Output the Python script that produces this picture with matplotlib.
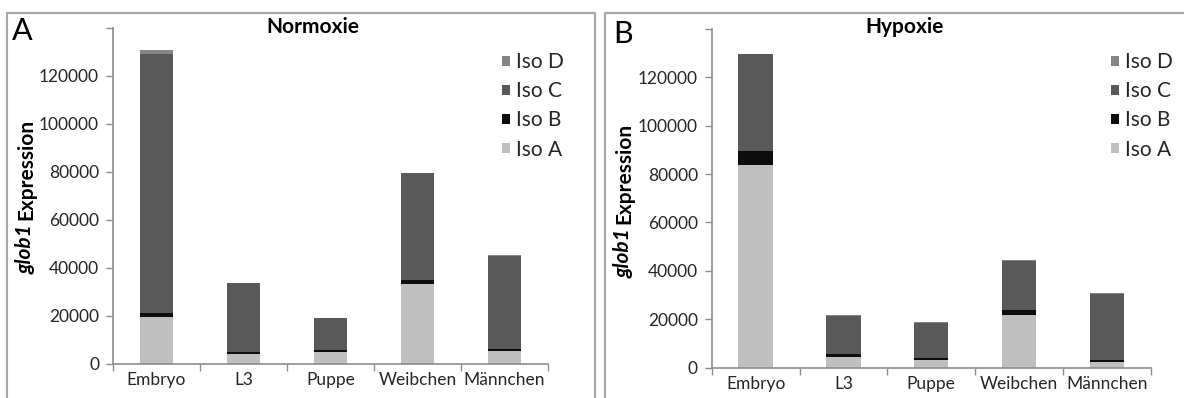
import matplotlib.pyplot as plt
from matplotlib.patches import Rectangle
import numpy as np

categories = ['Embryo', 'L3', 'Puppe', 'Weibchen', 'Männchen']
series_names = ['Iso A', 'Iso B', 'Iso C', 'Iso D']
series_colors = ['#bfbfbf', '#0d0d0d', '#595959', '#858585']

# Normoxie
normox_a = [19500, 4000, 5000, 33300, 5500]
normox_b = [1600, 900, 900, 1700, 900]
normox_c = [108100, 28700, 13100, 44400, 38700]
normox_d = [1600, 300, 200, 300, 300]

# Hypoxie
hypox_a = [83800, 4500, 3100, 21800, 2400]
hypox_b = [5800, 1100, 800, 2000, 700]
hypox_c = [39900, 15800, 14600, 20300, 27300]
hypox_d = [200, 200, 200, 300, 300]

y_ticks = [0, 20000, 40000, 60000, 80000, 100000, 120000]

plt.rcParams['font.family'] = ['Lato', 'DejaVu Sans']
W, H = 1184, 398
fig = plt.figure(figsize=(W / 100, H / 100), dpi=100)
text_color = '#262626'
axis_color = '#8c8c8c'


def px(x0, y0, x1, y1):
    # image pixel box (top-left origin) -> figure fraction rect
    return [x0 / W, 1 - y1 / H, (x1 - x0) / W, (y1 - y0) / H]


# panel frames
for x0, x1 in [(7, 595), (605, 1200)]:
    fig.add_artist(Rectangle((x0 / W, -0.2), (x1 - x0) / W, 1.2 - 13 / H,
                             transform=fig.transFigure, fill=False,
                             edgecolor='#a6a6a6', linewidth=1.5))

panels = [
    dict(rect=px(113, 28, 548, 364), data=[normox_a, normox_b, normox_c, normox_d],
         title='Normoxie', title_x=313, letter='A', letter_xy=(12, 31),
         leg_xy=(502, 52), ylab_x=26, ylab_y0=274),
    dict(rect=px(711.7, 29, 1150.7, 367.5), data=[hypox_a, hypox_b, hypox_c, hypox_d],
         title='Hypoxie', title_x=905, letter='B', letter_xy=(613, 34),
         leg_xy=(1111, 52), ylab_x=624, ylab_y0=278),
]

fig.canvas.draw()
for p in panels:
    ax = fig.add_axes(p['rect'])
    x = np.arange(len(categories)) + 0.5
    bottom = np.zeros(len(categories))
    handles = []
    for name, color, vals in zip(series_names, series_colors, p['data']):
        b = ax.bar(x, vals, width=0.39, bottom=bottom, color=color, label=name)
        handles.append(b)
        bottom += np.array(vals)

    ax.set_xlim(0, 5)
    ax.set_ylim(0, 140000)
    ax.set_yticks(y_ticks + [140000])
    ax.set_yticklabels([str(v) for v in y_ticks] + [''])
    ax.set_xticks(np.arange(6))
    ax.set_xticklabels([])
    ax.set_xticks(x, minor=True)
    ax.set_xticklabels(categories, minor=True)
    ax.tick_params(axis='both', which='major', length=5, width=1, color=axis_color,
                   labelsize=12.5, labelcolor=text_color)
    ax.tick_params(axis='x', which='minor', length=0, pad=6, labelsize=12.5,
                   labelcolor=text_color)
    ax.tick_params(axis='y', pad=5)
    for s in ['top', 'right']:
        ax.spines[s].set_visible(False)
    for s in ['left', 'bottom']:
        ax.spines[s].set_color(axis_color)
        ax.spines[s].set_linewidth(1.2)

    fig.text(p['title_x'] / W, 1 - 27 / H, p['title'], ha='center', va='center',
             fontsize=15, fontweight='bold', color='black')
    lx, ly = p['letter_xy']
    fig.text(lx / W, 1 - ly / H, p['letter'], ha='left', va='center',
             fontsize=22, color='black')

    leg = ax.legend(handles[::-1], series_names[::-1], loc='upper left',
                    bbox_to_anchor=(p['leg_xy'][0] / W, 1 - p['leg_xy'][1] / H),
                    bbox_transform=fig.transFigure, frameon=False, fontsize=15,
                    handlelength=0.36, handleheight=0.36, handletextpad=0.3,
                    labelspacing=0.44, borderpad=0, borderaxespad=0)
    for t in leg.get_texts():
        t.set_color(text_color)

    # y label: italic bold "glob1" + bold "Expression"
    t1 = fig.text(p['ylab_x'] / W, 1 - p['ylab_y0'] / H, 'glob1', rotation=90,
                  ha='center', va='bottom', fontsize=15, fontweight='bold',
                  fontstyle='italic', color='black')
    fig.canvas.draw()
    bb = t1.get_window_extent()
    fig.text(p['ylab_x'] / W, (bb.y1 + 4) / H, 'Expression', rotation=90,
             ha='center', va='bottom', fontsize=15, fontweight='bold', color='black')

fig.savefig('out.png', dpi=100)
